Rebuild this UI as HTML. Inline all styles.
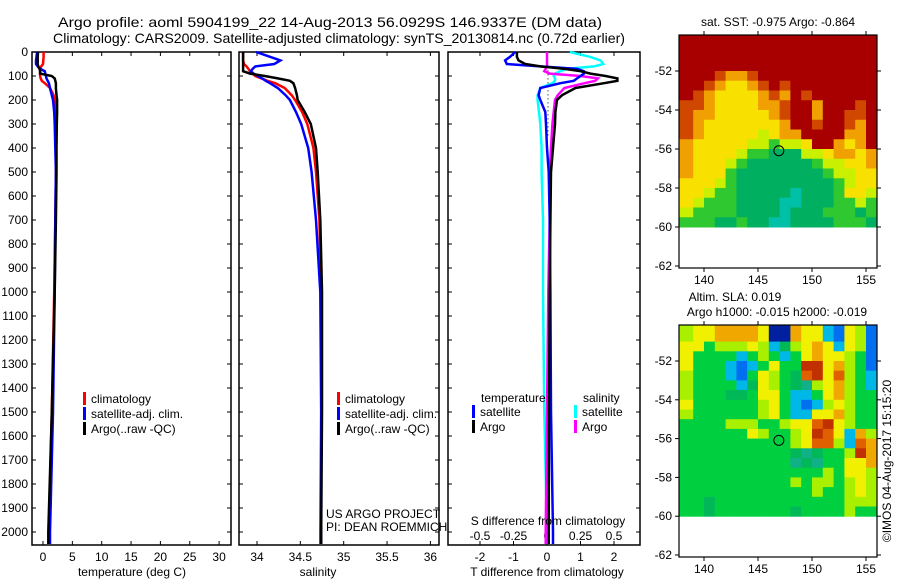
<!DOCTYPE html>
<html><head><meta charset="utf-8"><style>
body{margin:0;background:#fff;}
svg{display:block;font-family:"Liberation Sans",sans-serif;}
</style></head><body>
<svg id="chart" width="900" height="580" viewBox="0 0 900 580" xmlns="http://www.w3.org/2000/svg">
<rect width="900" height="580" fill="#fff"/>
<text x="58" y="27" font-size="14" textLength="544" lengthAdjust="spacingAndGlyphs">Argo profile: aoml 5904199_22 14-Aug-2013 56.0929S 146.9337E (DM data)</text>
<text x="53" y="43" font-size="14" textLength="572" lengthAdjust="spacingAndGlyphs">Climatology: CARS2009. Satellite-adjusted climatology: synTS_20130814.nc (0.72d earlier)</text>
<g id="g"></g>
</svg>
<script>
// ---- profile data ----
const depths = [0,20,35,50,60,70,80,90,100,110,120,130,150,180,200,250,300,400,500,700,1000,1500,2000,2050];
const argoT = [-0.85,-0.9,-0.9,-0.9,-0.8,-0.6,-0.5,-0.5,1.5,2.0,2.1,2.2,2.2,2.3,2.4,2.4,2.35,2.3,2.3,2.2,2.0,1.5,0.9,0.9];
const climT = [0.1,0.1,0.05,0,-0.3,-0.5,-0.5,-0.5,-0.5,-0.4,-0.2,0.3,1.2,1.8,2.0,2.1,2.2,2.2,2.2,2.1,1.9,1.5,1.0,1.0];
const satT = [-1.0,-1.1,-1.2,-1.2,-0.9,-0.5,0.3,0.4,0.5,0.6,0.8,1.0,1.2,1.5,1.7,1.9,2.0,2.1,2.2,2.1,2.0,1.7,1.2,1.2];
const argoS = [33.84,33.84,33.84,33.84,33.84,33.84,33.84,33.92,34.09,34.24,34.38,34.42,34.44,34.46,34.47,34.55,34.62,34.68,34.70,34.73,34.75,34.75,34.74,34.74];
const climS = [33.84,33.84,33.84,33.85,33.88,33.90,33.92,33.95,33.98,34.05,34.12,34.21,34.32,34.40,34.44,34.52,34.58,34.65,34.68,34.72,34.74,34.74,34.73,34.73];
const satS = [33.99,34.15,34.27,34.20,33.98,33.95,33.93,33.96,34.01,34.06,34.10,34.15,34.24,34.33,34.38,34.45,34.51,34.59,34.63,34.68,34.73,34.74,34.74,34.74];
const argoDT = [-0.9,-0.9,-0.85,-0.65,-0.2,0.5,1.0,1.3,1.75,2.1,2.1,1.7,0.85,0.45,0.3,0.25,0.24,0.18,0.12,0.1,0.08,0.06,0.05,0.05];
const satDT = [-0.95,-1.1,-1.25,-1.2,-0.2,0.9,1.1,1.1,1.0,0.9,0.8,0.4,-0.2,-0.25,-0.2,-0.05,-0.03,0.0,0.05,0.08,0.1,0.12,0.18,0.18];
const satDS = [0.17,0.32,0.4,0.42,0.35,0.15,0.1,0.06,0.05,0.06,0.06,0.04,-0.05,-0.07,-0.07,-0.06,-0.05,-0.04,-0.04,-0.03,-0.03,-0.02,0.0,0.0];
const argoDS = [0.0,0.0,0.0,0.0,0.0,-0.01,-0.02,0.02,0.25,0.38,0.36,0.28,0.13,0.08,0.06,0.05,0.04,0.03,0.02,0.02,0.01,0.0,-0.01,-0.01];
const depthTicks = [0,100,200,300,400,500,600,700,800,900,1000,1100,1200,1300,1400,1500,1600,1700,1800,1900,2000];
const tempTicks = [0,5,10,15,20,25,30];
const salTicks = [34,34.5,35,35.5,36];
const dtTicks = [-2,-1,0,1,2];
const dsTicks = [-0.5,-0.25,0,0.25,0.5];
// ---- map data ----
const sstTitle = "sat. SST: -0.975 Argo: -0.864";
const mapLons = [138,139,140,141,142,143,144,145,146,147,148,149,150,151,152,153,154,155];
const mapLatTop = [-50,-50.5,-51,-51.5,-52,-52.5,-53,-53.5,-54,-54.5,-55,-55.5,-56,-56.5,-57,-57.5,-58,-58.5,-59,-59.5];
const sstRows = ["RRRRRRRRRRRRRRRRRR","RRRRRRRRRRRRRRRRRR","RRRRRRRRRRRRRRRRRR","RRRRRRRRRRRRRRRRRR",
"RRRroorRRRRRRRRRRR","RRroyyorRrRRRRRRRR","RroyyyyoroRrRRRRRR","rroyyyyoorRRoRRRrR","rooyyyyyorRRoRRrrR",
"royyyyyyyoRRrRRroR","royyyyylyooRRRRooR","oyyyyyllgllyRRoyoR","oyyyylggGGGllyooyo","oyyylgGGGGGGgllyyo",
"oyyygGGGGGGGGgllyy","yyylgGGGGGGGGGglyy","yylggGGGGGcGGGgyyl","ylgggGGGGccGGGgglg","lggggGGGGcGGGgggGg","gggGGgGGccGGGGgggG"];
const slaRows = ["lyyooooyBBoyyCbylb","lyyooooyBBoyyCbylb","yyglllylCGlyoyCylb","yggggCglgCgyoyylgb",
"ygggCbCgyggRRyolgb","lgggCbgylgGrRyrlgC","lggggCGylgGtlyolgC","lgggGGgyygCCgyolgg","ygggggglygCbClylgg",
"lgggggglygCCyyolgg","gggglllgglyyrRylgg","ggggggylgglyRryCol","gggggggggglyrrlCro","ggggggggggGtGgglRo",
"ggggggggggtGtggyyo","ggggggggggggglgyyl","gggggggggglgllglyl","gggggggggggglgglyl","ggGgggggggggggglll","ggGgggggggGgggglgg"];
const sstColors = {R:"#a80000",r:"#d04800",o:"#f0a000",y:"#f8e000",l:"#c8f000",g:"#30c830",G:"#00b060",c:"#00c0a8"};
const slaColors = {B:"#0020a0",b:"#0070f0",C:"#00b8e8",t:"#10b088",G:"#00b858",g:"#00d040",l:"#a8f000",y:"#f0f000",o:"#f0a800",r:"#e06000",R:"#c03000"};
const mapLatTicks = [-52,-54,-56,-58,-60,-62];
const mapLonTicks = [140,145,150,155];
const floatLon = 146.93, floatLat = -56.09;

const NS="http://www.w3.org/2000/svg";
const G=document.getElementById('g');
function el(tag,attrs,parent){const e=document.createElementNS(NS,tag);for(const k in attrs)e.setAttribute(k,attrs[k]);(parent||G).appendChild(e);return e;}
function txt(s,x,y,anchor,size,parent){const t=el('text',{x:x,y:y,'font-size':size||12,'text-anchor':anchor||'start'},parent);t.textContent=s;return t;}

const yD = d => 52 + d*0.24;
const pTop=52, pBot=545;
function panel(name,x0,x1,xs,ticks,fmt,showY){
  const g=el('g',{});
  
  
  const r=el('rect',{x:x0,y:pTop,width:x1-x0,height:pBot-pTop,fill:'none',stroke:'#000','stroke-width':1.5},g);
  
  
  depthTicks.forEach(d=>{
    const y=yD(d);
    el('line',{x1:x0,x2:x0+4,y1:y,y2:y,stroke:'#000'},g);
    el('line',{x1:x1,x2:x1-4,y1:y,y2:y,stroke:'#000'},g);
    if(showY){const t=txt(String(d),28,y+4,'end',12,g);
      
      }
  });
  ticks.forEach(v=>{
    const x=xs(v);
    el('line',{x1:x,x2:x,y1:pBot,y2:pBot-4,stroke:'#000'},g);
    el('line',{x1:x,x2:x,y1:pTop,y2:pTop+4,stroke:'#000'},g);
    if(fmt){const t=txt(fmt(v),x,561,'middle',12,g);
      
      }
  });
  return g;
}
function series(name,vals,xs,color,w){
  const p=el('polyline',{points:vals.map((v,i)=>xs(v).toFixed(1)+','+yD(depths[i]).toFixed(1)).join(' '),fill:'none',stroke:color,'stroke-width':w||2.5,'stroke-linejoin':'miter'});
  
  
}
function legend(items,x,y0){
  items.forEach((it,i)=>{
    const y=y0+i*15;
    const b=el('rect',{x:x,y:y-6,width:3,height:13,fill:it[1]});
    
    
    const t=txt(it[0],x+8,y+5,'start',12);
    
    
  });
}
// Panel 1 temperature
const xT = v => 43 + v*5.87;
panel('temperature-panel',32,231,xT,tempTicks,v=>String(v),true);
series('temp-climatology',climT,xT,'#f00');
series('temp-satellite',satT,xT,'#00f');
series('temp-argo',argoT,xT,'#000');
legend([['climatology','#f00'],['satellite-adj. clim.','#00f'],['Argo(..raw -QC)','#000']],83,398);
let lbl=txt('temperature (deg C)',132,576,'middle',12);


// Panel 2 salinity
const xS = v => 257 + (v-34)*86.7;
panel('salinity-panel',239,439,xS,salTicks,v=>String(v),false);
series('sal-climatology',climS,xS,'#f00');
series('sal-satellite',satS,xS,'#00f');
series('sal-argo',argoS,xS,'#000');
legend([['climatology','#f00'],['satellite-adj. clim.','#00f'],['Argo(..raw -QC)','#000']],337,398);
lbl=txt('salinity',318,576,'middle',12);


lbl=txt('US ARGO PROJECT',326,518,'start',12);


lbl=txt('PI: DEAN ROEMMICH',326,531,'start',12);


// Panel 3 differences
const xDT = v => 547 + v*33.5;
const xDS = v => 547 + v*134;
panel('difference-panel',448,640,xDT,dtTicks,v=>String(v),false);
dsTicks.forEach(v=>{const tt=txt(String(v),xDS(v),540,'middle',12);
  
  });
const dl=el('line',{x1:548,x2:548,y1:yD(60),y2:yD(350),stroke:'#000','stroke-dasharray':'1,3'});


series('s-diff-satellite',satDS,xDS,'#0ff');
series('s-diff-argo',argoDS,xDS,'#f0f');
series('t-diff-satellite',satDT,xDT,'#00f');
series('t-diff-argo',argoDT,xDT,'#000');
lbl=txt('temperature',481,402,'start',12);
lbl=txt('salinity',583,402,'start',12);
legend([['satellite','#00f'],['Argo','#000']],472,411);
legend([['satellite','#0ff'],['Argo','#f0f']],574,411);
lbl=txt('S difference from climatology',548,525,'middle',12);


lbl=txt('T difference from climatology',547,576,'middle',12);



// Maps
const xL = lon => 704 + (lon-140)*10.8;
function map(name,rows,colors,yTop,latY52,scale){
  const yL = lat => latY52 + (-52-lat)*scale;
  const g=el('g',{});
  
  
  const cid=name+'-clip';
  const cp=el('clipPath',{id:cid},g);
  const boxB=yL(-62)+2;
  el('rect',{x:679,y:yTop,width:198,height:boxB-yTop},cp);
  const cells=el('g',{'clip-path':'url(#'+cid+')'},g);
  rows.forEach((row,ri)=>{
    const la=mapLatTop[ri];
    [...row].forEach((c,ci)=>{
      const lo=mapLons[ci];
      const x0=ci===0?670:xL(lo), x1=ci===row.length-1?890:xL(lo+1);
      const r=el('rect',{x:x0,y:yL(la)-(ri===0?10:0),width:x1-x0+0.5,height:yL(la-0.5)-yL(la)+(ri===0?10:0)+0.5,fill:colors[c]},cells);
      
      
    });
  });
  const fr=el('rect',{x:679,y:yTop,width:198,height:boxB-yTop,fill:'none',stroke:'#000','stroke-width':1.2},g);
  
  
  mapLatTicks.forEach(la=>{
    const y=yL(la);
    el('line',{x1:675,x2:679,y1:y,y2:y,stroke:'#000'},g);
    el('line',{x1:877,x2:881,y1:y,y2:y,stroke:'#000'},g);
    const tt=txt(String(la),672,y+4,'end',12,g);
    
    
  });
  mapLonTicks.forEach(lo=>{
    const x=xL(lo);
    el('line',{x1:x,x2:x,y1:boxB,y2:boxB+4,stroke:'#000'},g);
    el('line',{x1:x,x2:x,y1:yTop,y2:yTop-4,stroke:'#000'},g);
    const tt=txt(String(lo),x,boxB+16,'middle',12,g);
    
    
  });
  const c=el('circle',{cx:xL(floatLon),cy:yL(floatLat),r:5,fill:'none',stroke:'#000','stroke-width':1},g);
  
  
}
map('sst-map',sstRows,sstColors,35,71,19.5);
map('sla-map',slaRows,slaColors,325,361,19.4);
lbl=txt(sstTitle,778,26,'middle',12);


lbl=txt('Altim. SLA: 0.019',735,301,'middle',12);


lbl=txt('Argo h1000: -0.015 h2000: -0.019',777,316,'middle',12);


lbl=txt('©IMOS 04-Aug-2017 15:15:20',0,0,'middle',12);
lbl.setAttribute('transform','translate(891,461) rotate(-90)');


</script>
</body></html>
